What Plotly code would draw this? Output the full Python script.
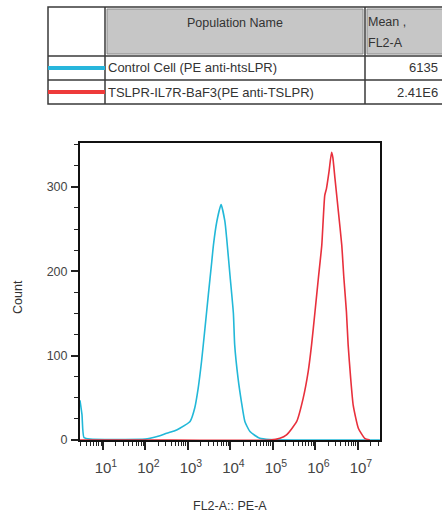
import plotly.graph_objects as go

# ---------------- data ----------------
series_names = ["Control Cell (PE anti-htsLPR)", "TSLPR-IL7R-BaF3(PE anti-TSLPR)"]
series_means = ["6135", "2.41E6"]
series_colors = ["#22b8d8", "#e8303c"]
legend_colors = ["#27b6dc", "#ee3a3a"]

control_fl2 = [2.88, 3.21, 3.57, 4.94, 25, 100, 129, 219, 316, 490, 646, 1122, 1445, 1738,
               2089, 2512, 3020, 3631, 3981, 4786, 6026, 7413, 8128, 9772, 11749, 12589,
               15136, 18197, 21878, 28840, 48978, 85114, 316228, 3162278, 33000000]
control_count = [47, 30, 3, 1, 0.5, 1, 2, 5, 8, 11, 14, 22, 38, 61,
                 93, 132, 172, 211, 231, 259, 279, 259, 240, 195, 150, 113,
                 73, 45, 22, 10, 2, 0.5, 0, 0, 0]

tslpr_fl2 = [2.88, 100, 85114, 146218, 208930, 363078, 512861, 676083, 812831, 977237,
             1174898, 1412538, 1659587, 1819701, 2089296, 2398833, 2570396, 2884032,
             3467369, 4168694, 4677351, 5370318, 5888437, 6760830, 7762471, 10232930,
             14454398, 19054607]
tslpr_count = [0, 0, 0, 2, 6, 22, 49, 81, 113, 152,
               192, 231, 290, 298, 318, 341, 335, 310,
               271, 231, 192, 152, 113, 73, 41, 14,
               2, 0]

x_tick_vals = [10, 100, 1000, 10000, 100000, 1000000, 10000000]
x_tick_text = ["10<sup>1</sup>", "10<sup>2</sup>", "10<sup>3</sup>", "10<sup>4</sup>",
               "10<sup>5</sup>", "10<sup>6</sup>", "10<sup>7</sup>"]
y_tick_vals = [0, 100, 200, 300]

header_name = "Population Name"
header_mean = ["Mean ,", "FL2-A"]
x_title = "FL2-A:: PE-A"
y_title = "Count"

# ---------------- layout geometry (pixels) ----------------
W, H = 442, 515
L, R, T, B = 80, 380, 143, 440


def px(x):
    return (x - L) / (R - L)


def py(y):
    return (B - y) / (B - T)


FONT = "Liberation Sans, Arial, sans-serif"

fig = go.Figure()
fig.add_trace(go.Scatter(x=control_fl2, y=control_count, mode="lines",
                         line=dict(color=series_colors[0], width=1.6, shape="spline",
                                   smoothing=0.5),
                         name=series_names[0]))
fig.add_trace(go.Scatter(x=tslpr_fl2, y=tslpr_count, mode="lines",
                         line=dict(color=series_colors[1], width=1.6, shape="spline",
                                   smoothing=0.5),
                         name=series_names[1]))

shapes = []
annotations = []

tbl_l, tbl_r, tbl_t, tbl_b = 48, 446, 7, 104
c1, c2 = 105, 365
r1, r2 = 56, 80
shapes.append(dict(type="rect", xref="paper", yref="paper", x0=px(c1 + 2), x1=px(c2 - 2),
                   y0=py(tbl_t + 2), y1=py(r1 - 2), fillcolor="#c6c6c6",
                   line=dict(color="#8a8a8a", width=1), layer="above"))
shapes.append(dict(type="rect", xref="paper", yref="paper", x0=px(c2 + 2), x1=px(tbl_r),
                   y0=py(tbl_t + 2), y1=py(r1 - 2), fillcolor="#c6c6c6",
                   line=dict(color="#8a8a8a", width=1), layer="above"))
line_style = dict(color="#3a3a3a", width=1.5)
shapes.append(dict(type="rect", xref="paper", yref="paper", x0=px(tbl_l), x1=px(tbl_r),
                   y0=py(tbl_t), y1=py(tbl_b), line=line_style, layer="above"))
for yy in (r1, r2):
    shapes.append(dict(type="line", xref="paper", yref="paper", x0=px(tbl_l), x1=px(tbl_r),
                       y0=py(yy), y1=py(yy), line=line_style, layer="above"))
for xx in (c1, c2):
    shapes.append(dict(type="line", xref="paper", yref="paper", x0=px(xx), x1=px(xx),
                       y0=py(tbl_t), y1=py(tbl_b), line=line_style, layer="above"))

annotations.append(dict(text=header_name, xref="paper", yref="paper", x=px((c1 + c2) / 2),
                        y=py(23), xanchor="center", yanchor="middle", showarrow=False,
                        font=dict(family=FONT, size=12.5, color="#333")))
annotations.append(dict(text=header_mean[0], xref="paper", yref="paper", x=px(c2 + 1),
                        y=py(22), xanchor="left", yanchor="middle", showarrow=False,
                        font=dict(family=FONT, size=12.5, color="#333")))
annotations.append(dict(text=header_mean[1], xref="paper", yref="paper", x=px(c2 + 1),
                        y=py(43), xanchor="left", yanchor="middle", showarrow=False,
                        font=dict(family=FONT, size=12.5, color="#333")))

row_centers = [68, 92]
for i in range(2):
    yc = row_centers[i]
    shapes.append(dict(type="line", xref="paper", yref="paper", x0=px(tbl_l), x1=px(c1),
                       y0=py(yc), y1=py(yc), line=dict(color=legend_colors[i], width=4),
                       layer="above"))
    annotations.append(dict(text=series_names[i], xref="paper", yref="paper", x=px(c1 + 1),
                            y=py(yc), xanchor="left", yanchor="middle", showarrow=False,
                            font=dict(family=FONT, size=13, color="#333")))
    annotations.append(dict(text=series_means[i], xref="paper", yref="paper", x=px(440),
                            y=py(yc), xanchor="right", yanchor="middle", showarrow=False,
                            font=dict(family=FONT, size=13, color="#333")))

annotations.append(dict(text=x_title, xref="paper", yref="paper", x=0.5, y=py(506),
                        xanchor="center", yanchor="middle", showarrow=False,
                        font=dict(family=FONT, size=12.5, color="#333")))
annotations.append(dict(text=y_title, xref="paper", yref="paper", x=px(18), y=py(297),
                        xanchor="center", yanchor="middle", showarrow=False, textangle=-90,
                        font=dict(family=FONT, size=12.5, color="#333")))

fig.update_layout(
    width=W, height=H,
    margin=dict(l=L, r=W - R, t=T, b=H - B, pad=0),
    paper_bgcolor="white", plot_bgcolor="white",
    showlegend=False,
    shapes=shapes, annotations=annotations,
    font=dict(family=FONT, size=12, color="#444"),
)
fig.update_xaxes(type="log", range=[0.46, 7.52], tickvals=x_tick_vals, ticktext=x_tick_text,
                 ticks="outside", ticklen=8, tickwidth=1.5, tickcolor="#222",
                 showline=True, linecolor="#111", linewidth=2, mirror=True,
                 showgrid=False, zeroline=False, layer="below traces",
                 tickfont=dict(family=FONT, size=15, color="#444"),
                 ticklabelshift=3, ticklabelstandoff=5,
                 minor=dict(ticks="outside", ticklen=4, tickwidth=1, tickcolor="#222",
                            dtick="D1", showgrid=False))
fig.update_yaxes(range=[0, 352], tickvals=y_tick_vals,
                 ticks="outside", ticklen=7, tickwidth=1.5, tickcolor="#222",
                 showline=True, linecolor="#111", linewidth=2, mirror=True,
                 showgrid=False, zeroline=False, layer="below traces",
                 tickfont=dict(family=FONT, size=12.5, color="#444"),
                 ticklabelstandoff=1,
                 minor=dict(ticks="outside", ticklen=4, tickwidth=1, tickcolor="#222",
                            dtick=25, showgrid=False))

fig.write_html("out.html", config={"displayModeBar": False},
               post_script="document.body.style.margin='0';document.body.style.padding='0';")
